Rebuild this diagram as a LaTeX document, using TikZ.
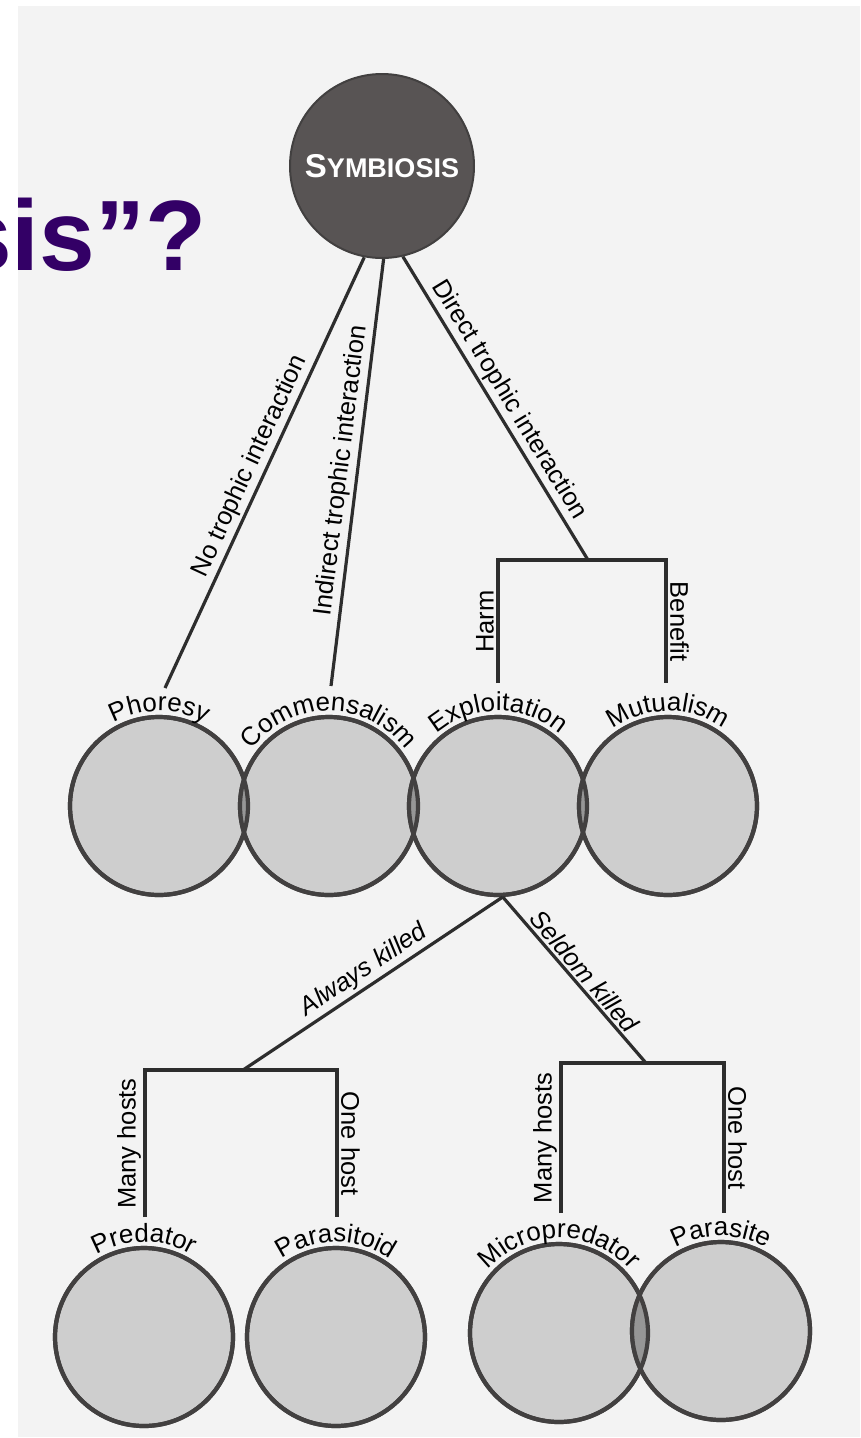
\documentclass[tikz,border=0pt]{standalone}
\usepackage{fontspec}
\setmainfont{Liberation Sans}
\usetikzlibrary{decorations.text}
\definecolor{scanbg}{RGB}{243,243,243}
\definecolor{ink}{RGB}{45,45,45}
\definecolor{rim}{RGB}{66,64,64}
\definecolor{cfill}{RGB}{206,206,206}
\definecolor{ovl}{RGB}{150,150,150}
\definecolor{symfill}{RGB}{88,84,84}
\definecolor{titlec}{RGB}{51,0,102}
\newcommand\lblfont{\fontsize{25.5}{27}\selectfont}
\newcommand\arcfont{\fontsize{26}{28}\selectfont}
\newcommand\arclabel[2]{\path[decorate,decoration={text along path,text={|\arcfont|#2},text align=center}] ([shift={(165:95pt)}]#1.center) arc[start angle=165,end angle=15,radius=95pt];}
\tikzset{
  bubble/.style={circle, draw=rim, line width=4.2pt, fill=cfill, minimum size=178pt, inner sep=0pt},
  conn/.style={draw=ink, line width=3.2pt, line join=miter},
  lbl/.style={font=\lblfont, text=black, inner sep=2.5pt},
}
\begin{document}
\begin{tikzpicture}[x=1pt,y=-1pt]
\useasboundingbox (0,0) rectangle (860,1438);
\fill[white] (0,0) rectangle (860,1438);
\fill[scanbg] (18,6) rectangle (860,1437);

% title fragment
\node[anchor=base west, text=titlec, font=\bfseries\fontsize{100}{100}\selectfont, inner sep=0pt] (title) at (-44,270) {sis”?};

% root
\node[circle, draw=rim, line width=2pt, fill=symfill, minimum size=184pt, inner sep=0pt, text=white] (sym) at (382,166)
  {\bfseries\fontsize{33}{33}\selectfont S\fontsize{27}{27}\selectfont YMBIOSIS};

% row 1 circles
\node[bubble] (ph) at (159,806) {};
\node[bubble] (cm) at (329,806) {};
\node[bubble] (ex) at (498,806) {};
\node[bubble] (mu) at (668,806) {};
% row 2 circles
\node[bubble] (pr) at (144,1337) {};
\node[bubble] (pa) at (336,1337) {};
\node[bubble] (mi) at (559,1333) {};
\node[bubble] (ps) at (721,1331) {};

% overlaps
\begin{scope}\clip (159,806) circle[radius=89pt]; \fill[ovl] (329,806) circle[radius=89pt];\end{scope}
\begin{scope}\clip (329,806) circle[radius=89pt]; \fill[ovl] (498,806) circle[radius=89pt];\end{scope}
\begin{scope}\clip (498,806) circle[radius=89pt]; \fill[ovl] (668,806) circle[radius=89pt];\end{scope}
\begin{scope}\clip (559,1333) circle[radius=89pt]; \fill[ovl] (721,1331) circle[radius=89pt];\end{scope}
\foreach \n in {ph,cm,ex,mu,pr,pa,mi,ps}
  \draw[rim, line width=4.2pt] (\n.center) circle[radius=89pt];

% curved labels
\arclabel{ph}{Phoresy}
\arclabel{cm}{Commensalism}
\arclabel{ex}{Exploitation}
\arclabel{mu}{Mutualism}
\arclabel{pr}{Predator}
\arclabel{pa}{Parasitoid}
\arclabel{mi}{Micropredator}
\arclabel{ps}{Parasite}

% free ends
\coordinate (phT) at (165,688);
\coordinate (cmT) at (331,686);
\coordinate (exJ) at (588,560);
\coordinate (hL) at (498,560);
\coordinate (hLb) at (498,683);
\coordinate (hR) at (666,560);
\coordinate (hRb) at (666,683);
\coordinate (akJ) at (243,1070);
\coordinate (aL) at (145,1070);
\coordinate (aLb) at (145,1217);
\coordinate (aR) at (337,1070);
\coordinate (aRb) at (337,1217);
\coordinate (skJ) at (646,1063);
\coordinate (sL) at (561,1063);
\coordinate (sLb) at (561,1213);
\coordinate (sR) at (724,1063);
\coordinate (sRb) at (724,1213);

% top connectors
\draw[conn] (sym.-101) -- node[lbl, sloped, above, pos=.5] {No trophic interaction} (phT);
\draw[conn] (sym.-89) -- node[lbl, sloped, above, pos=.5] {Indirect trophic interaction} (cmT);
\draw[conn] (sym.-77) -- node[lbl, sloped, above, pos=.5] {Direct trophic interaction} (exJ);
\draw[conn] (hLb) -- node[lbl, rotate=90, anchor=south, pos=.5] {Harm} (hL) -- (hR)
  -- node[lbl, rotate=-90, anchor=south, pos=.5] {Benefit} (hRb);

% lower connectors
\draw[conn] (ex.-87) -- node[lbl, sloped, above, pos=.5, font=\lblfont\itshape] {Always killed} (akJ);
\draw[conn] (ex.-87) -- node[lbl, sloped, above, pos=.5, font=\lblfont\itshape] {Seldom killed} (skJ);
\draw[conn] (aLb) -- node[lbl, rotate=90, anchor=south, pos=.5] {Many hosts} (aL) -- (aR)
  -- node[lbl, rotate=-90, anchor=south, pos=.5] {One host} (aRb);
\draw[conn] (sLb) -- node[lbl, rotate=90, anchor=south, pos=.5] {Many hosts} (sL) -- (sR)
  -- node[lbl, rotate=-90, anchor=south, pos=.5] {One host} (sRb);
\end{tikzpicture}
\end{document}
